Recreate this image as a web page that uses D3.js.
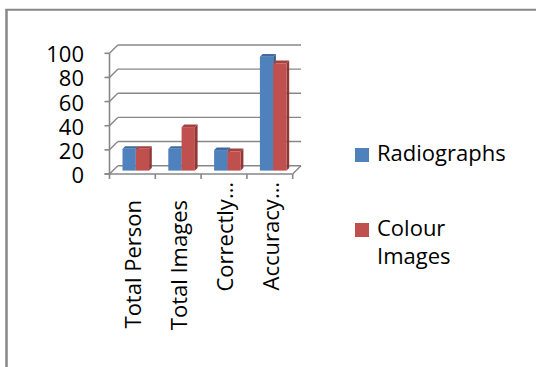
<!DOCTYPE html>
<html>
<head>
<meta charset="utf-8">
<script src="https://cdn.jsdelivr.net/npm/d3@7"></script>
<style>
  html, body { margin: 0; padding: 0; background: #fff; }
  svg { display: block; }
  text { font-family: "Open Sans", Lato, sans-serif; fill: #000; }
</style>
</head>
<body>
<svg id="chart" width="536" height="367"></svg>
<script>
// Chart data
const categories = ["Total Person", "Total Images", "Correctly…", "Accuracy…"];
const seriesNames = ["Radiographs", "Colour Images"];
const radiographs = [18, 18, 17, 94.4];
const colourImages = [18, 36, 16, 88.9];
const yTicks = [0, 20, 40, 60, 80, 100];

const colors = {
  Radiographs: { front: "#4F81BD", top: "#3F6B9F", side: "#385D8A" },
  "Colour Images": { front: "#C0504D", top: "#A5423F", side: "#8C3836" }
};

const svg = d3.select("#chart");
const grid = "#878787";
const fontSize = 22;

// Outer chart frame (only top and left edges fall inside the view)
svg.append("line").attr("x1", 5.5).attr("x2", 536).attr("y1", 9.8).attr("y2", 9.8)
  .attr("stroke", grid).attr("stroke-width", 2);
svg.append("line").attr("x1", 6.5).attr("x2", 6.5).attr("y1", 9).attr("y2", 367)
  .attr("stroke", grid).attr("stroke-width", 2.5);

// Front plane of the 3-D box, and the oblique depth offset
const x0 = 109.5, x1 = 292.7;
const depth = 8.3;
const barFront = 3.4, barBack = 6.1;

const x = d3.scaleBand().domain(categories).range([x0, x1]).paddingInner(0).paddingOuter(0);
const barW = 13.3;
const xs = d3.scaleBand().domain(seriesNames)
  .range([(x.bandwidth() - 2 * barW) / 2, (x.bandwidth() + 2 * barW) / 2]);
const y = d3.scaleLinear().domain([0, 100]).range([174, 53.3]);

const walls = svg.append("g").attr("fill", "none").attr("stroke", grid).attr("stroke-width", 1.4);

// Back-wall gridlines and left-wall diagonals
yTicks.forEach(t => {
  walls.append("line")
    .attr("x1", x0 + depth).attr("x2", x1 + depth)
    .attr("y1", y(t) - depth).attr("y2", y(t) - depth);
  walls.append("line")
    .attr("x1", x0).attr("x2", x0 + depth)
    .attr("y1", y(t)).attr("y2", y(t) - depth);
});
// Floor right edge
walls.append("line").attr("x1", x1).attr("x2", x1 + depth)
  .attr("y1", y(0)).attr("y2", y(0) - depth);

// Bars
const rows = [];
categories.forEach((c, i) => {
  rows.push({ cat: c, series: "Radiographs", value: radiographs[i] });
  rows.push({ cat: c, series: "Colour Images", value: colourImages[i] });
});

const bars = svg.append("g").selectAll("g").data(rows).join("g");
bars.each(function(d) {
  const g = d3.select(this);
  const bx = x(d.cat) + xs(d.series);
  const yv = y(d.value), yb = y(0);
  const col = colors[d.series];
  const pt = (px, py) => px + "," + py;
  // right side
  g.append("polygon")
    .attr("points", [
      pt(bx + barW + barFront, yv - barFront), pt(bx + barW + barBack, yv - barBack),
      pt(bx + barW + barBack, yb - barBack), pt(bx + barW + barFront, yb - barFront)
    ].join(" "))
    .attr("fill", col.side);
  // top
  g.append("polygon")
    .attr("points", [
      pt(bx + barFront, yv - barFront), pt(bx + barW + barFront, yv - barFront),
      pt(bx + barW + barBack, yv - barBack), pt(bx + barBack, yv - barBack)
    ].join(" "))
    .attr("fill", col.top);
  // front face
  g.append("rect")
    .attr("x", bx + barFront).attr("y", yv - barFront)
    .attr("width", barW).attr("height", yb - yv)
    .attr("fill", col.front);
});

// Front axes
const axes = svg.append("g").attr("fill", "none").attr("stroke", grid).attr("stroke-width", 1.6);
axes.append("line").attr("x1", x0).attr("x2", x0).attr("y1", y(0) + 1).attr("y2", y(100));
axes.append("line").attr("x1", x0 - 5).attr("x2", x1).attr("y1", y(0)).attr("y2", y(0));
yTicks.forEach(t => {
  axes.append("line").attr("x1", x0 - 5).attr("x2", x0).attr("y1", y(t)).attr("y2", y(t));
});
d3.range(categories.length + 1).forEach(i => {
  const tx = x0 + i * x.bandwidth();
  axes.append("line").attr("x1", tx).attr("x2", tx).attr("y1", y(0)).attr("y2", y(0) + 5);
});

// Y tick labels
svg.append("g").selectAll("text").data(yTicks).join("text")
  .attr("x", 84).attr("y", t => y(t) + 9)
  .attr("text-anchor", "end")
  .attr("font-size", fontSize)
  .text(t => t);

// Category labels, rotated to read upward
svg.append("g").selectAll("text").data(categories).join("text")
  .attr("transform", c => {
    const cx = x(c) + x.bandwidth() / 2;
    const top = c.endsWith("…") ? 182 : 200;
    return `translate(${cx},${top}) rotate(-90)`;
  })
  .attr("dy", "0.4em")
  .attr("text-anchor", "end")
  .attr("font-size", fontSize)
  .text(c => c);

// Legend
const legend = svg.append("g");
const legendRows = [
  { name: "Radiographs", lines: ["Radiographs"], y: 148 },
  { name: "Colour Images", lines: ["Colour", "Images"], y: 223 }
];
legendRows.forEach(r => {
  legend.append("rect").attr("x", 355).attr("y", r.y).attr("width", 14).attr("height", 14)
    .attr("fill", colors[r.name].front);
  const t = legend.append("text").attr("x", 377).attr("y", r.y + 13).attr("font-size", fontSize);
  r.lines.forEach((ln, k) => {
    t.append("tspan").attr("x", 377).attr("dy", k === 0 ? 0 : 28).text(ln);
  });
});
</script>
</body>
</html>
